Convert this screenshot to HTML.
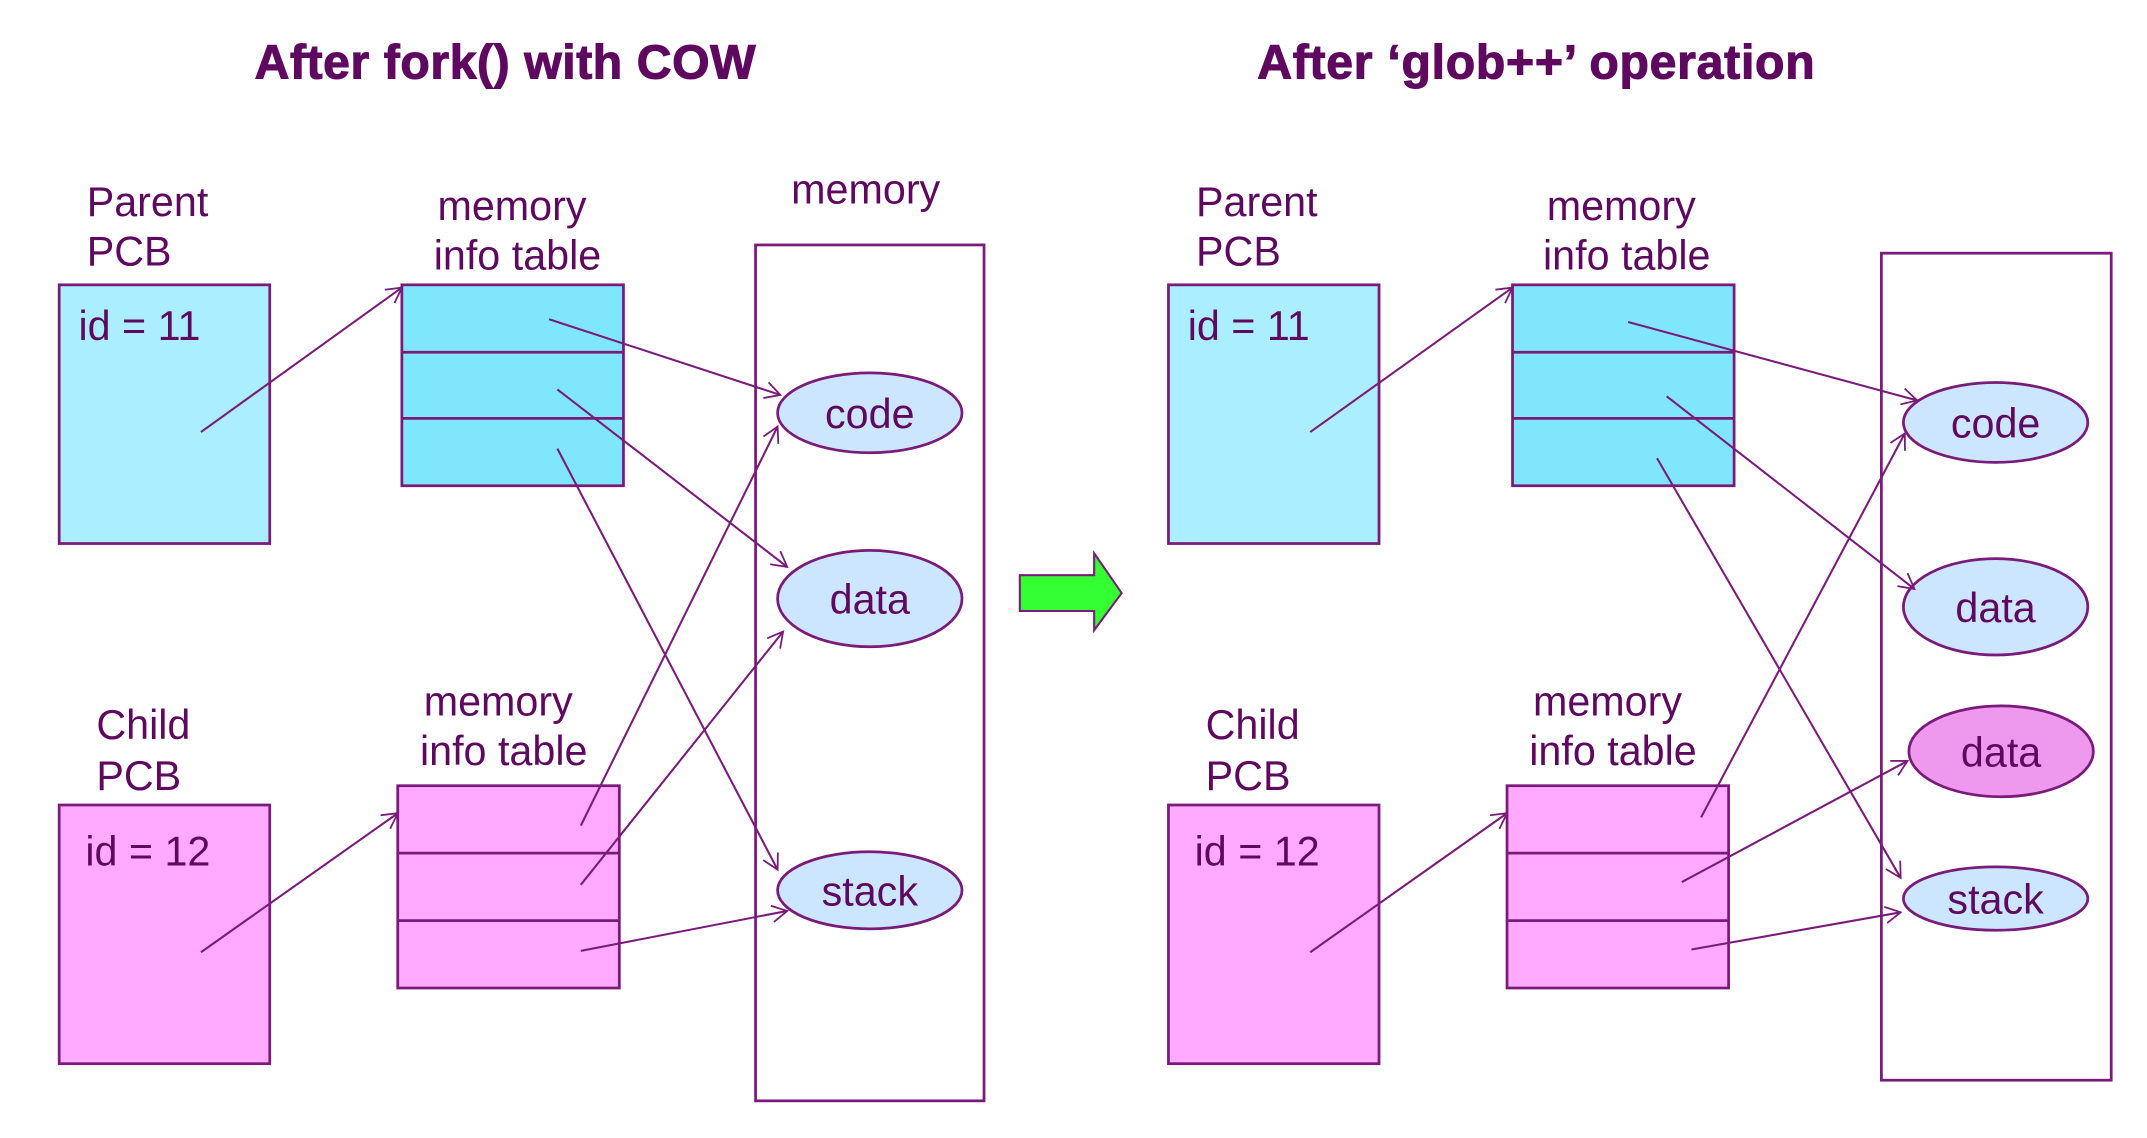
<!DOCTYPE html>
<html><head><style>
html,body{margin:0;padding:0;background:#fff;width:2147px;height:1138px;overflow:hidden}
svg{display:block}
text{font-family:"Liberation Sans",sans-serif;fill:#5e0860}
</style></head><body>
<svg width="2147" height="1138" viewBox="0 0 1560 827" preserveAspectRatio="none" xmlns="http://www.w3.org/2000/svg">
<defs>
<marker id="a" markerWidth="14" markerHeight="14" refX="12" refY="7" orient="auto" markerUnits="userSpaceOnUse">
<path d="M1,1 L12,7 L1,13" fill="none" stroke="#7a1a7a" stroke-width="1.3"/>
</marker>
</defs>
<g font-size="35" font-weight="bold" stroke="#5e0860" stroke-width="0.8">
<text x="367" y="57" text-anchor="middle" textLength="364">After fork() with COW</text>
<text x="1116" y="57" text-anchor="middle" textLength="405">After ‘glob++’ operation</text>
</g>
<!-- LEFT -->
<g>
<g font-size="30">
<text x="63" y="157">Parent</text><text x="63" y="193">PCB</text>
<text x="70" y="537">Child</text><text x="70" y="574">PCB</text>
<text x="372" y="160" text-anchor="middle">memory</text><text x="376" y="196" text-anchor="middle">info table</text>
<text x="362" y="520" text-anchor="middle">memory</text><text x="366" y="556" text-anchor="middle">info table</text>
<text x="629" y="148" text-anchor="middle">memory</text>
</g>
<g stroke="#7a1a7a" stroke-width="2">
<rect x="43" y="207" width="153" height="188" fill="#aaeeff"/>
<rect x="43" y="585" width="153" height="188" fill="#ffaaff"/>
<rect x="292" y="207" width="161" height="146" fill="#80e6fc"/>
<line x1="292" y1="256" x2="453" y2="256"/><line x1="292" y1="304" x2="453" y2="304"/>
<rect x="289" y="571" width="161" height="147" fill="#ffaaff"/>
<line x1="289" y1="620" x2="450" y2="620"/><line x1="289" y1="669" x2="450" y2="669"/>
<rect x="549" y="178" width="166" height="622" fill="none"/>
<ellipse cx="632" cy="300" rx="67" ry="29" fill="#cce6ff"/>
<ellipse cx="632" cy="435" rx="67" ry="35" fill="#cce6ff"/>
<ellipse cx="632" cy="647" rx="67" ry="28" fill="#cce6ff"/>
</g>
<g font-size="30">
<text x="57" y="247">id = 11</text><text x="62" y="629">id = 12</text>
<text x="632" y="311" text-anchor="middle">code</text>
<text x="632" y="446" text-anchor="middle">data</text>
<text x="632" y="658" text-anchor="middle">stack</text>
</g>
<g stroke="#7a1a7a" stroke-width="1.5" fill="none" marker-end="url(#a)">
<line x1="146" y1="314" x2="292" y2="209"/>
<line x1="399" y1="232" x2="567" y2="287"/>
<line x1="405" y1="283" x2="572" y2="412"/>
<line x1="405" y1="326" x2="565" y2="632"/>
<line x1="146" y1="692" x2="289" y2="591"/>
<line x1="422" y1="600" x2="565" y2="310"/>
<line x1="422" y1="643" x2="569" y2="459"/>
<line x1="422" y1="691" x2="572" y2="662"/>
</g>
</g>
<polygon points="741,418 795,418 795,402 815,431 795,458 795,444 741,444" fill="#33ff33" stroke="#7a1a7a" stroke-width="1.5"/>
<!-- RIGHT -->
<g transform="translate(-4,0)">
<g font-size="30">
<text x="873" y="157">Parent</text><text x="873" y="193">PCB</text>
<text x="880" y="537">Child</text><text x="880" y="574">PCB</text>
<text x="1182" y="160" text-anchor="middle">memory</text><text x="1186" y="196" text-anchor="middle">info table</text>
<text x="1172" y="520" text-anchor="middle">memory</text><text x="1176" y="556" text-anchor="middle">info table</text>
</g>
<g stroke="#7a1a7a" stroke-width="2">
<rect x="853" y="207" width="153" height="188" fill="#aaeeff"/>
<rect x="853" y="585" width="153" height="188" fill="#ffaaff"/>
<rect x="1103" y="207" width="161" height="146" fill="#80e6fc"/>
<line x1="1103" y1="256" x2="1264" y2="256"/><line x1="1103" y1="304" x2="1264" y2="304"/>
<rect x="1099" y="571" width="161" height="147" fill="#ffaaff"/>
<line x1="1099" y1="620" x2="1260" y2="620"/><line x1="1099" y1="669" x2="1260" y2="669"/>
<rect x="1371" y="184" width="167" height="601" fill="none"/>
<ellipse cx="1454" cy="307" rx="67" ry="29" fill="#cce6ff"/>
<ellipse cx="1454" cy="441" rx="67" ry="35" fill="#cce6ff"/>
<ellipse cx="1458" cy="546" rx="67" ry="33" fill="#ee99ee"/>
<ellipse cx="1454" cy="653" rx="67" ry="23" fill="#cce6ff"/>
</g>
<g font-size="30">
<text x="867" y="247">id = 11</text><text x="872" y="629">id = 12</text>
<text x="1454" y="318" text-anchor="middle">code</text>
<text x="1454" y="452" text-anchor="middle">data</text>
<text x="1458" y="557" text-anchor="middle">data</text>
<text x="1454" y="664" text-anchor="middle">stack</text>
</g>
<g stroke="#7a1a7a" stroke-width="1.5" fill="none" marker-end="url(#a)">
<line x1="956" y1="314" x2="1103" y2="209"/>
<line x1="1187" y1="234" x2="1397" y2="291"/>
<line x1="1215" y1="288" x2="1395" y2="428"/>
<line x1="1208" y1="333" x2="1385" y2="638"/>
<line x1="956" y1="692" x2="1099" y2="591"/>
<line x1="1240" y1="594" x2="1388" y2="315"/>
<line x1="1226" y1="641" x2="1390" y2="553"/>
<line x1="1233" y1="690" x2="1385" y2="663"/>
</g>
</g>
</svg>
</body></html>
